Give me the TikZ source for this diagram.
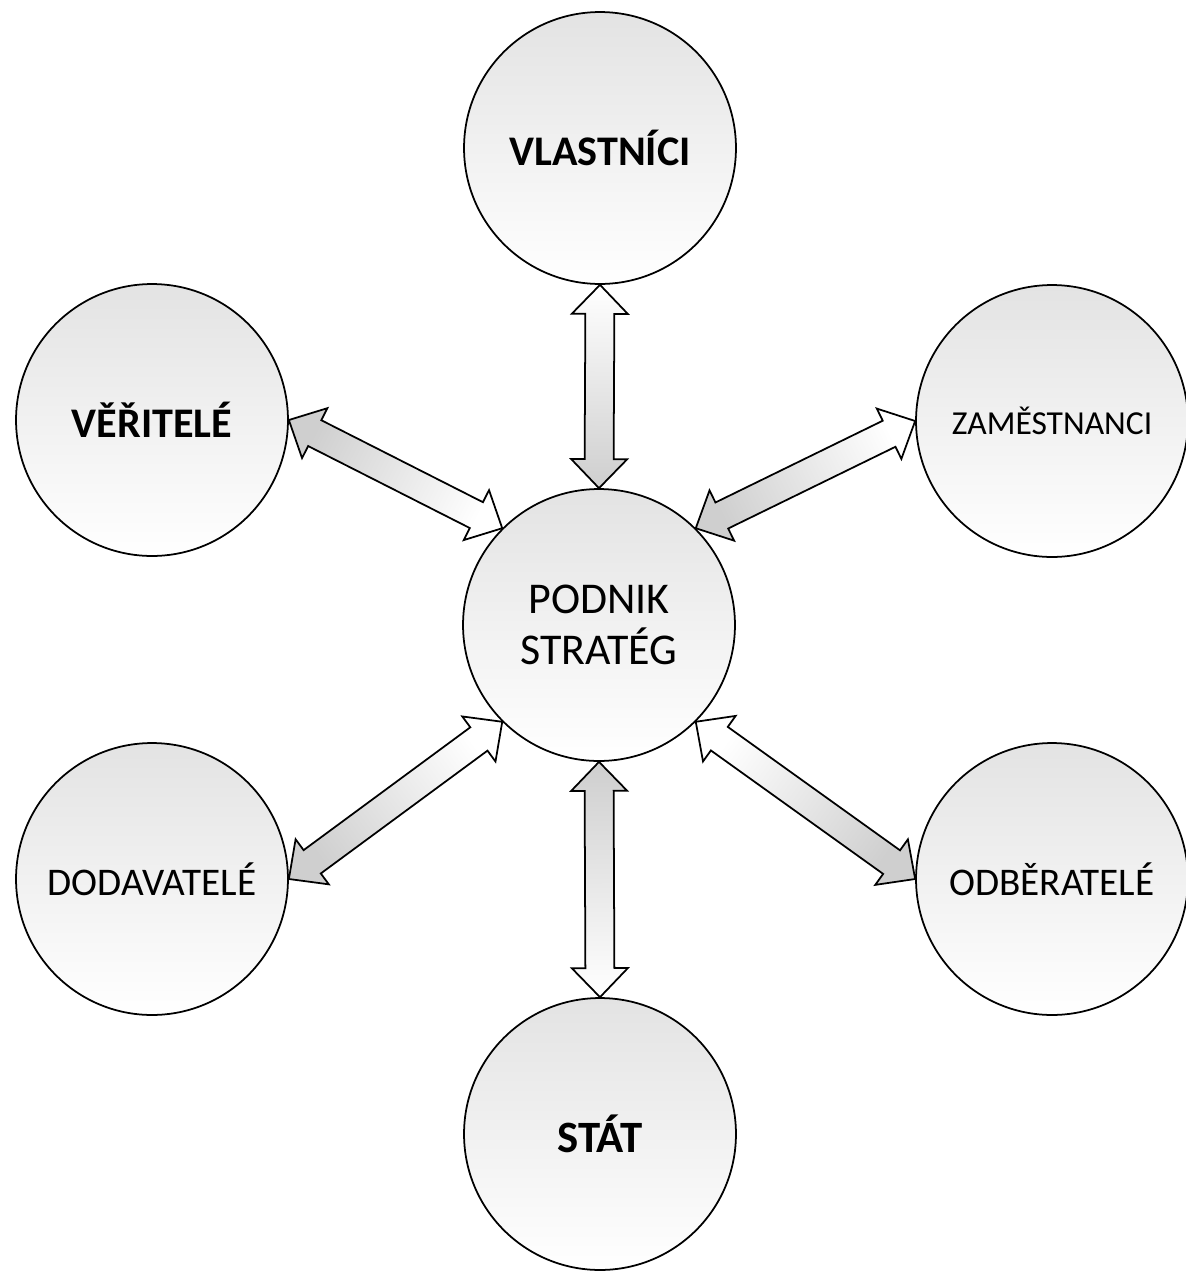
\documentclass[tikz,border=0pt]{standalone}
\usepackage{fontspec}
\setmainfont{Carlito}
\usetikzlibrary{calc}

% two-headed block arrow from #1 to #2, shaded darker towards #2
\newcommand{\twoway}[2]{%
  \path let \p1=($(#2)-(#1)$) in \pgfextra{%
    \pgfmathsetlengthmacro\tmplen{veclen(\x1,\y1)}\global\let\arrlen\tmplen
    \pgfmathsetmacro\tmpang{atan2(\y1,\x1)}\global\let\arrang\tmpang};
  \pgfmathsetmacro\shadang{\arrang-90}%
  \begin{scope}[shift={(#1)}, rotate=\arrang]
    \draw[blockarr, shading angle=\shadang] (0pt,0pt) -- (0.58cm,0.56cm) -- (0.58cm,0.29cm)
      -- ({\arrlen-0.58cm},0.29cm) -- ({\arrlen-0.58cm},0.56cm) -- (\arrlen,0pt)
      -- ({\arrlen-0.58cm},-0.56cm) -- ({\arrlen-0.58cm},-0.29cm)
      -- (0.58cm,-0.29cm) -- (0.58cm,-0.56cm) -- cycle;
  \end{scope}}

\begin{document}
\begin{tikzpicture}[
  x=0.02cm, y=-0.02cm,
  party/.style={circle, draw, line width=1pt, minimum size=5.44cm, inner sep=0pt,
    top color=gray!22, bottom color=white, align=center},
  big/.style={font=\fontsize{25}{29}\selectfont},
  bigbold/.style={font=\bfseries\fontsize{24}{29}\selectfont},
  mid/.style={font=\fontsize{22.3}{26}\selectfont},
  small/.style={font=\fontsize{19.1}{23}\selectfont},
  blockarr/.style={line width=1pt, top color=gray!38, bottom color=white}
]
\useasboundingbox (0,0) rectangle (1186,1272);

\node[party, big] (pod) at (599,625) {PODNIK\\STRATÉG};
\node[party, bigbold] (vla) at (600,148) {VLASTNÍCI};
\node[party, bigbold] (ver) at (152,420) {VĚŘITELÉ};
\node[party, small] (zam) at (1052,421) {ZAMĚSTNANCI};
\node[party, mid] (dod) at (152,879) {DODAVATELÉ};
\node[party, mid] (odb) at (1052,879) {ODBĚRATELÉ};
\node[party, bigbold, font=\bfseries\fontsize{25.5}{29}\selectfont] (sta) at (600,1134) {STÁT};

\twoway{vla.south}{pod.north}
\twoway{pod.135}{ver.east}
\twoway{zam.west}{pod.45}
\twoway{pod.-135}{dod.east}
\twoway{pod.-45}{odb.west}
\twoway{sta.north}{pod.south}
\end{tikzpicture}
\end{document}
